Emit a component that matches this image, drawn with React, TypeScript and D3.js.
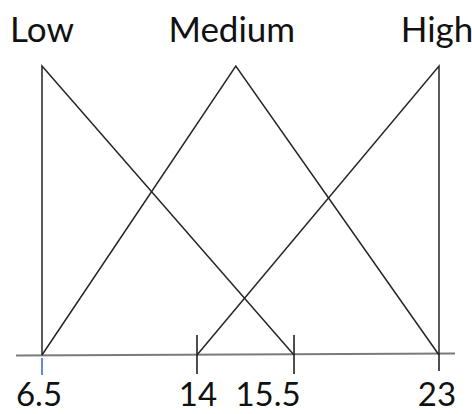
import * as d3 from "d3";

// tick values on the axis
const tickValues = [6.5, 14, 15.5, 23];
const tickLabels = ["6.5", "14", "15.5", "23"];

// membership functions: [x, degree] corner points
const setNames = ["Low", "Medium", "High"];
const lowPoints: [number, number][] = [
  [6.5, 0],
  [6.5, 1],
  [15.5, 0],
];
const mediumPoints: [number, number][] = [
  [6.5, 0],
  [14.6, 1],
  [23, 0],
];
const highPoints: [number, number][] = [
  [14, 0],
  [23, 1],
  [23, 0],
];
const setPeaks = [6.5, 14.6, 23];

const width = 472;
const height = 414;
const plot = { left: 42, right: 439, top: 66, bottom: 355 };
// hand-drawn axis: tick spacing is not linear
const tickFractions = [0, 0.3904, 0.6348, 1];
const labelShift = [-3, 1, -26, -2];
const nameShift = [0, -4, -2];

export default function App() {
  const plotW = plot.right - plot.left;
  const x = d3
    .scaleLinear()
    .domain(tickValues)
    .range(tickFractions.map((f) => plot.left + f * plotW));
  const y = d3.scaleLinear().domain([0, 1]).range([plot.bottom, plot.top]);

  const line = d3
    .line<[number, number]>()
    .x((d) => x(d[0]))
    .y((d) => y(d[1]));

  const font = "Lato, 'Open Sans', sans-serif";

  return (
    <svg
      width={width}
      height={height}
      style={{ position: "absolute", left: 0, top: 0, background: "#fff" }}
    >
      <line
        x1={16}
        x2={455}
        y1={y(0) + 0.5}
        y2={y(0) - 1.5}
        stroke="#7a7a7a"
        strokeWidth={2}
      />
      {/* ticks */}
      <line x1={x(6.5)} x2={x(6.5)} y1={y(0) + 3} y2={y(0) + 20} stroke="#5b8ed6" strokeWidth={2} />
      <line x1={x(14)} x2={x(14)} y1={y(0) - 20} y2={y(0) + 19} stroke="#222" strokeWidth={1.6} />
      <line x1={x(15.5)} x2={x(15.5)} y1={y(0) - 20} y2={y(0) + 19} stroke="#222" strokeWidth={1.6} />
      <line x1={x(23)} x2={x(23)} y1={y(0)} y2={y(0) + 16} stroke="#222" strokeWidth={1.6} />

      {[lowPoints, mediumPoints, highPoints].map((pts, i) => (
        <path
          key={setNames[i]}
          d={line(pts) ?? ""}
          fill="none"
          stroke="#262626"
          strokeWidth={1.5}
          strokeLinejoin="miter"
        />
      ))}

      {setNames.map((name, i) => (
        <text
          key={name}
          x={x(setPeaks[i]) + nameShift[i]}
          y={42}
          textAnchor="middle"
          fontFamily={font}
          fontSize={35}
          fill="#111"
        >
          {name}
        </text>
      ))}

      {tickValues.map((v, i) => (
        <text
          key={v}
          x={x(v) + labelShift[i]}
          y={406}
          textAnchor="middle"
          fontFamily={font}
          fontSize={33}
          fill="#111"
        >
          {tickLabels[i]}
        </text>
      ))}
    </svg>
  );
}
